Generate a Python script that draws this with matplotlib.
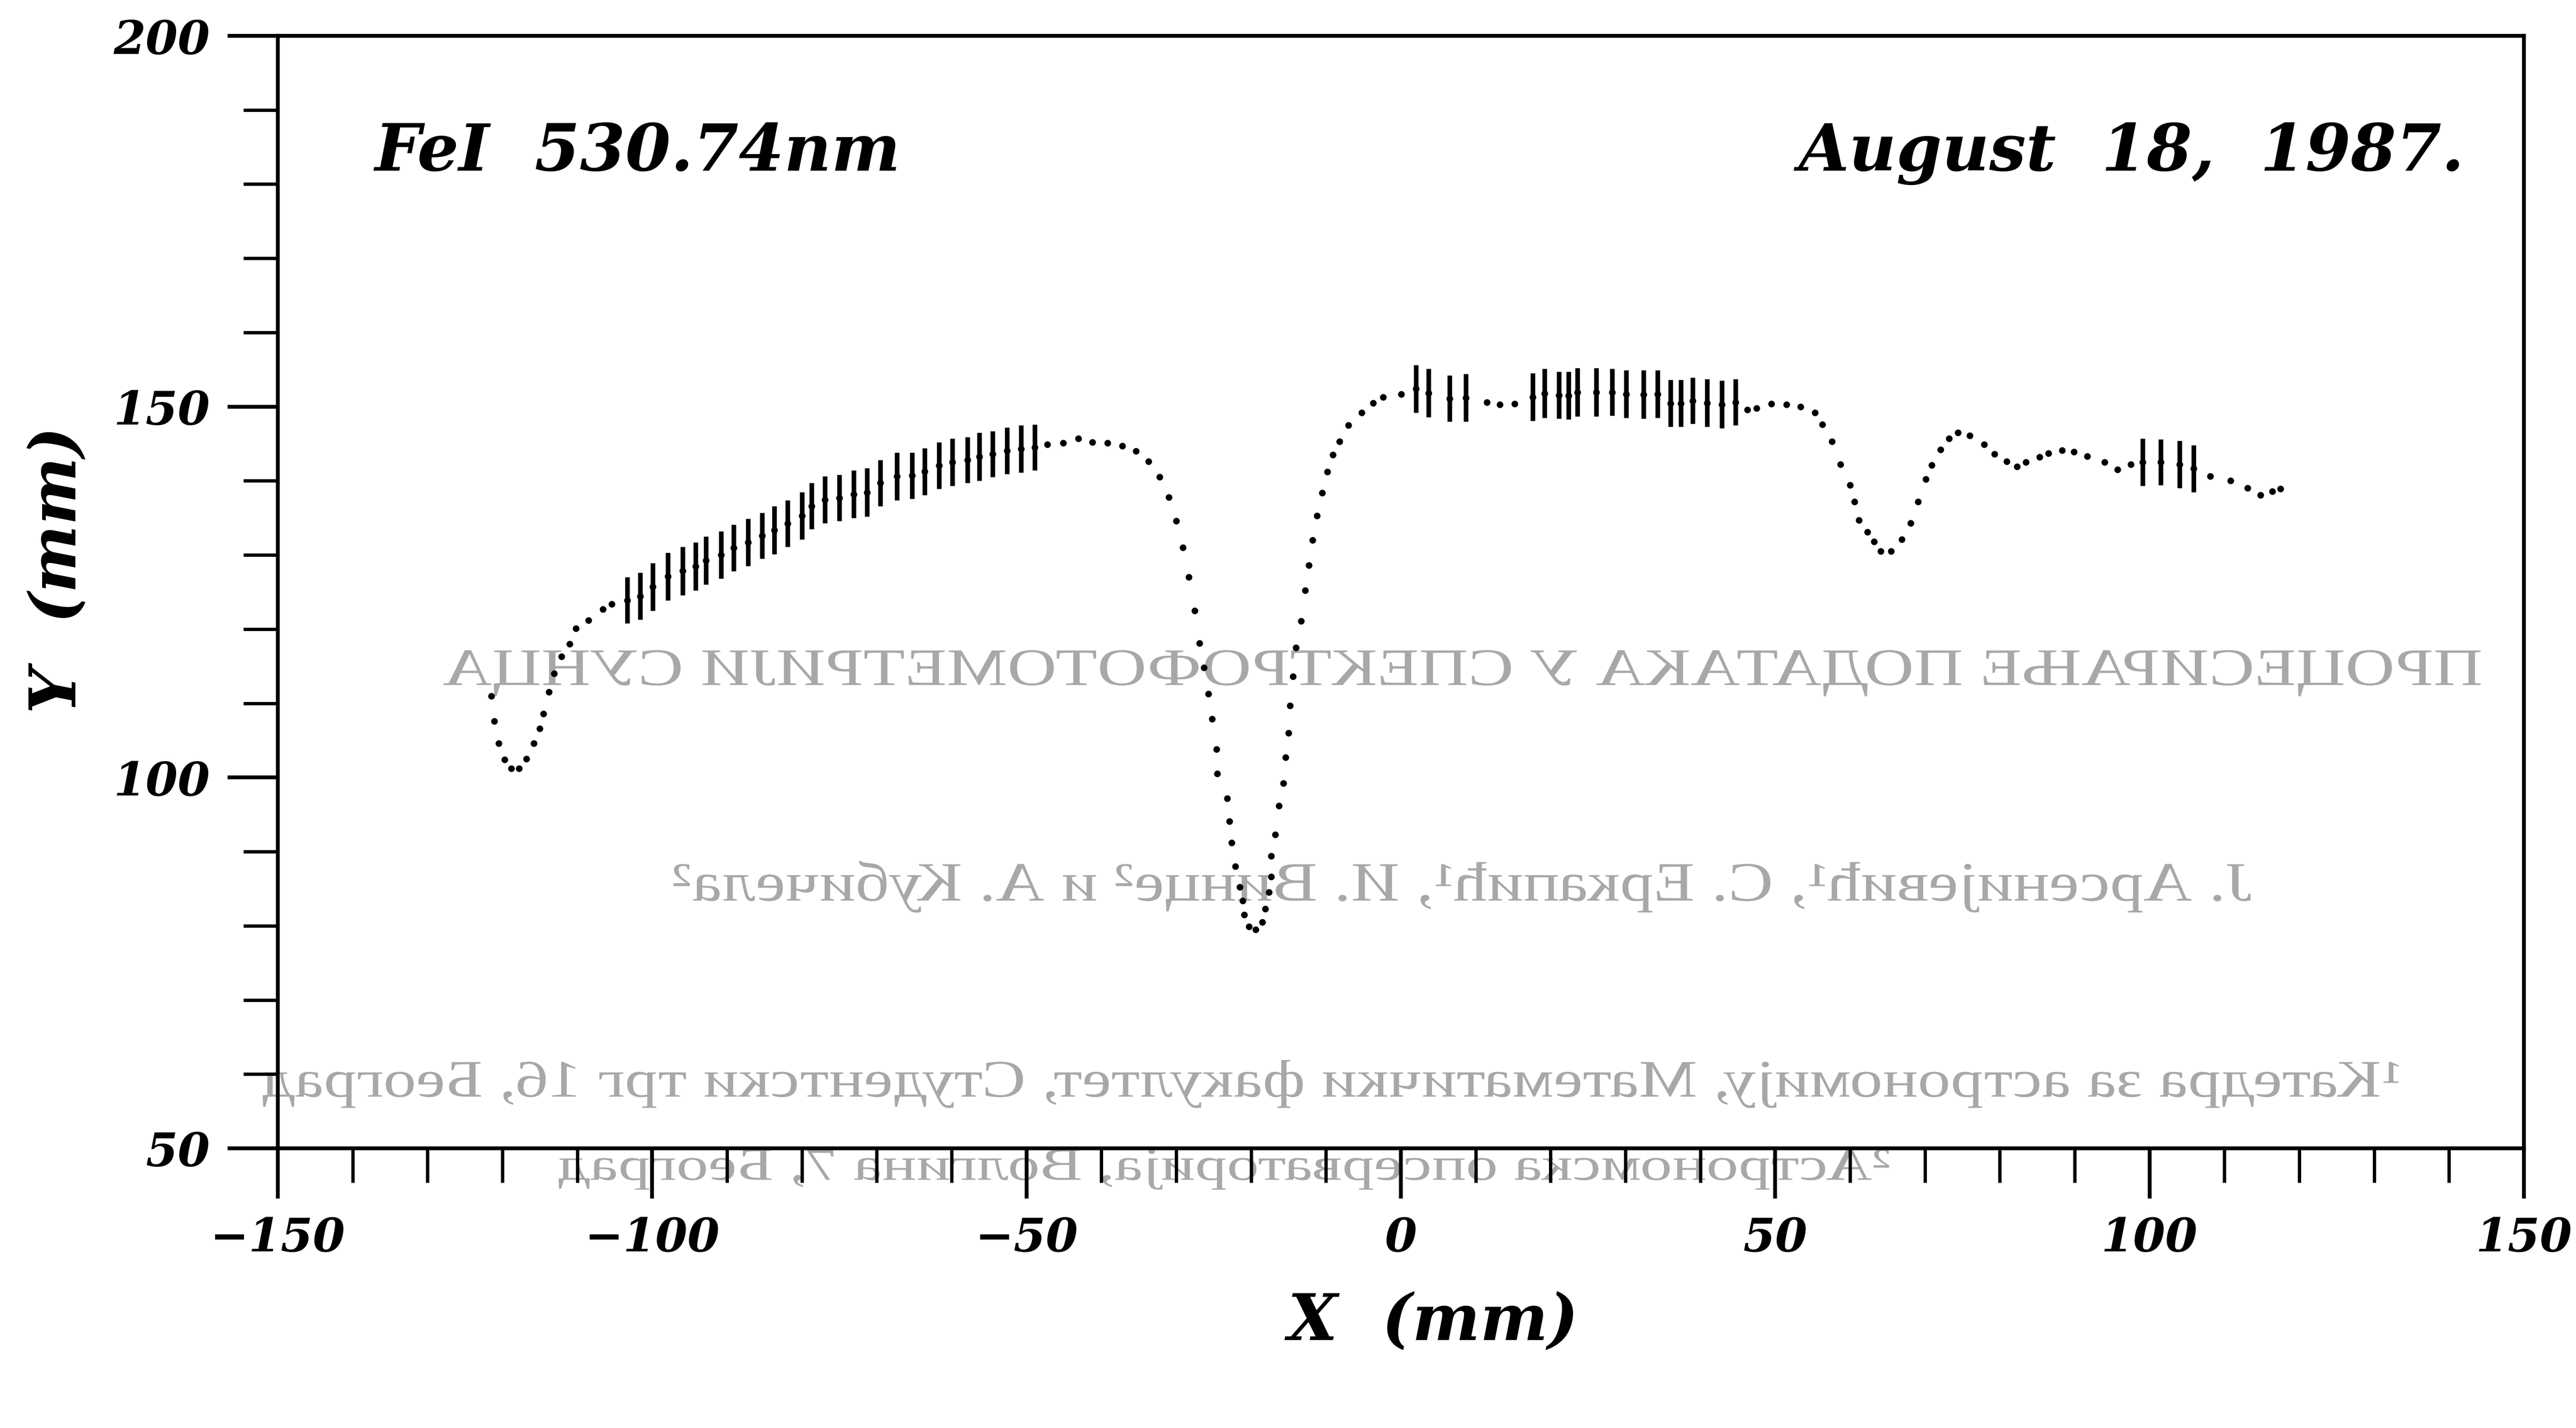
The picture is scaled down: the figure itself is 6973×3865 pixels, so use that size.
import matplotlib
matplotlib.use('Agg')
import matplotlib.pyplot as plt
from matplotlib.ticker import MultipleLocator
from matplotlib.textpath import TextPath
from matplotlib.patches import PathPatch
from matplotlib.font_manager import FontProperties
from matplotlib.transforms import Affine2D

# plain dots of the scan (X, Y in mm)
dot_x = [-121.5, -121.1, -120.5, -119.7, -118.8, -117.8, -116.8, -115.8, -115.0, -114.5,
         -113.8, -113.1, -112.1, -111.0, -110.2, -108.5, -106.6, -105.4,
         -47.2, -45.1, -43.1, -41.2, -39.2, -37.2, -35.4, -33.7, -32.2, -31.0,
         -30.0, -29.1, -28.3, -27.55, -26.9, -26.3, -25.7, -25.2, -24.6, -24.5,
         -23.2, -22.9, -22.6, -22.1, -21.5, -21.1, -20.9, -20.3, -19.4, -18.5,
         -18.1, -17.6, -17.3, -17.3, -16.8, -16.3, -15.7, -15.4, -15.0, -14.8,
         -14.4, -14.0, -13.3, -12.8, -12.3, -11.8, -11.2, -10.5, -9.8, -9.1,
         -8.2, -7.0, -5.25, -3.7, -2.35, 0.05,
         11.5, 13.2, 15.2,
         46.3, 47.5, 49.5, 51.5, 53.4, 55.3, 56.3, 57.6, 58.7, 60.0,
         60.6, 61.2, 62.3, 63.2, 64.1, 65.5, 66.9, 68.1, 69.1, 70.1,
         70.9, 72.1, 73.2, 74.4, 76.0, 77.9, 79.3, 80.9, 82.3, 83.5,
         85.3, 86.5, 88.3, 89.9, 91.7, 94.0, 95.7, 97.5,
         108.1, 110.8, 113.1, 114.8, 116.4, 117.5]
dot_y = [111.0, 107.6, 104.6, 102.4, 101.2, 101.2, 102.5, 104.6, 106.6, 108.6,
         111.5, 114.0, 116.3, 118.0, 120.1, 121.2, 122.7, 123.4,
         144.9, 145.1, 145.7, 145.2, 145.1, 144.7, 144.0, 142.6, 140.5, 137.8,
         134.6, 131.0, 127.0, 122.5, 118.1, 114.8, 111.3, 107.9, 103.8, 100.5,
         97.2, 94.1, 91.2, 88.0, 85.2, 83.4, 81.5, 79.9, 79.5, 80.5,
         82.3, 84.5, 86.6, 89.4, 92.3, 96.2, 99.2, 102.7, 106.0, 109.7,
         113.6, 117.5, 121.1, 125.2, 128.6, 132.0, 135.3, 138.4, 141.2, 143.5,
         145.3, 147.5, 149.2, 150.5, 151.3, 151.7,
         150.6, 150.3, 150.4,
         149.6, 149.8, 150.4, 150.3, 150.0, 149.2, 147.6, 145.3, 142.2, 139.4,
         137.2, 134.7, 133.1, 131.8, 130.5, 130.5, 132.1, 134.3, 137.2, 140.2,
         142.1, 144.2, 145.7, 146.5, 146.1, 144.9, 143.6, 142.6, 141.9, 142.5,
         143.2, 143.7, 144.1, 143.9, 143.3, 142.5, 141.5, 142.2,
         140.6, 140.0, 139.0, 138.1, 138.6, 138.9]

# points drawn with vertical bars: X, lower and upper end of the bar
bar_x = [-103.3, -101.6, -99.9, -97.9, -95.9, -94.2, -92.8, -90.8, -89.1, -87.2,
         -85.3, -83.7, -81.9, -80.0, -78.7, -76.9, -75.0, -73.1, -71.3, -69.5,
         -67.3, -65.3, -63.6, -61.7, -59.9, -57.9, -56.3, -54.5, -52.6, -50.7, -48.9,
         2.0, 3.7, 6.5, 8.7,
         17.6, 19.2, 21.1, 22.4, 23.6, 26.1, 28.2, 30.1, 32.4, 34.3,
         36.0, 37.4, 39.0, 40.9, 42.9, 44.7,
         99.1, 101.5, 104.0, 105.9]
bar_lo = [120.8, 121.3, 122.5, 123.9, 124.6, 125.2, 126.0, 126.8, 127.8, 128.5,
          129.5, 130.1, 131.1, 132.1, 133.5, 134.3, 134.6, 135.0, 135.2, 136.6,
          137.4, 137.6, 138.1, 138.9, 139.3, 139.7, 140.0, 140.5, 140.9, 141.1, 141.4,
          149.2, 148.6, 148.0, 148.0,
          148.1, 148.5, 148.4, 148.3, 148.7, 148.7, 148.8, 148.5, 148.4, 148.5,
          147.3, 147.3, 147.7, 147.3, 147.1, 147.5,
          139.3, 139.4, 139.0, 138.5]
bar_hi = [127.0, 127.6, 128.9, 130.3, 131.1, 131.7, 132.5, 133.2, 134.1, 134.9,
          135.7, 136.6, 137.4, 138.5, 139.7, 140.6, 140.8, 141.4, 141.7, 142.8,
          143.8, 143.8, 144.4, 145.2, 145.7, 145.9, 146.5, 146.7, 147.2, 147.5, 147.6,
          155.6, 155.1, 154.2, 154.4,
          154.5, 155.1, 154.7, 154.7, 155.2, 155.2, 155.1, 154.9, 154.9, 154.9,
          153.6, 153.6, 153.9, 153.7, 153.5, 153.7,
          145.7, 145.6, 145.4, 144.8]

x_ticks = [-150, -100, -50, 0, 50, 100, 150]
y_ticks = [50, 100, 150, 200]

# show-through from the back of the page (mirrored), left, right, centre y, height in px
ghost_lines = [
    ("ПРОЦЕСИРАЊЕ ПОДАТАКА У СПЕКТРОФОТОМЕТРИЈИ СУНЦА", 1200, 6715, 1823, 125),
    ("Ј. Арсенијевић¹, С. Еркапић¹, И. Винце² и А. Кубичела²", 1823, 6092, 2401, 140),
    ("¹Катедра за астрономију, Математички факултет, Студентски трг 16, Београд", 711, 6493, 2935, 130),
    ("²Астрономска опсерваторија, Волгина 7, Београд", 1512, 5114, 3166, 110),
]

W, H = 6973, 3866
fig = plt.figure(figsize=(W / 100, H / 100), dpi=100)
fig.patch.set_facecolor('white')

serif = 'DejaVu Serif'

# faint mirrored text bleeding through the paper
for s, x0, x1, yc, h in ghost_lines:
    tp = TextPath((0, 0), s, size=100, prop=FontProperties(family='Liberation Serif'))
    ext = tp.get_extents()
    sx = (x1 - x0) / ext.width
    sy = h / ext.height
    tr = Affine2D().translate(-ext.x0, -ext.y0).scale(-sx, sy).translate(x1, H - yc - h / 2)
    fig.add_artist(PathPatch(tp, transform=tr, facecolor='#a8a8a8', edgecolor='none', zorder=0))

ax = fig.add_axes([752 / W, 1 - 3109 / H, (6832 - 752) / W, (3109 - 98) / H], zorder=1)
ax.patch.set_alpha(0)

ax.vlines(bar_x, bar_lo, bar_hi, color='black', linewidth=9)
ax.plot(bar_x, [(a + b) / 2 for a, b in zip(bar_lo, bar_hi)], 'o', color='black', markersize=12)
ax.plot(dot_x, dot_y, 'o', color='black', markersize=13, markeredgewidth=0)

ax.set_xlim(-150, 150)
ax.set_ylim(50, 200)
ax.set_xticks(x_ticks)
ax.set_yticks(y_ticks)
ax.xaxis.set_minor_locator(MultipleLocator(10))
ax.yaxis.set_minor_locator(MultipleLocator(10))
ax.tick_params(which='major', direction='out', length=98, width=7.5, pad=34,
               labelsize=90, top=False, right=False)
ax.tick_params(which='minor', direction='out', length=67, width=6.5, top=False, right=False)
for lab in ax.get_xticklabels() + ax.get_yticklabels():
    lab.set_family(serif)
    lab.set_style('italic')
    lab.set_weight('bold')
for sp in ax.spines.values():
    sp.set_linewidth(7.5)

fig.text(1014 / W, 1 - 462 / H, 'FeI  530.74nm', family=serif, style='italic', weight='bold',
         fontsize=127, ha='left', va='baseline')
fig.text(6671 / W, 1 - 462 / H, 'August  18,  1987.', family=serif, style='italic', weight='bold',
         fontsize=127, ha='right', va='baseline')
fig.text(3879 / W, 1 - 3578 / H, 'X  (mm)', family=serif, style='italic', weight='bold',
         fontsize=125, ha='center', va='center')
fig.text(156 / W, 1 - 1543 / H, 'Y  (mm)', family=serif, style='italic', weight='bold',
         fontsize=125, ha='center', va='center', rotation=90)

fig.savefig('out.png', dpi=100, facecolor='white')
